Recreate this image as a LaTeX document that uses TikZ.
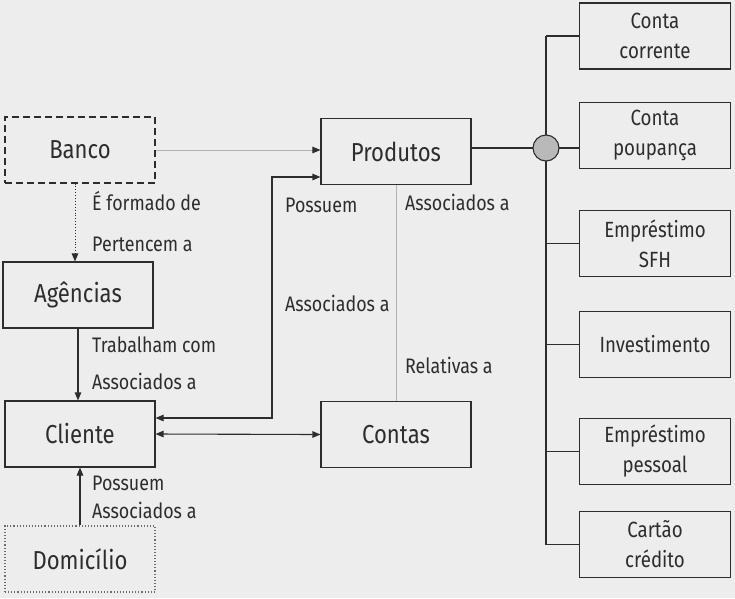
\documentclass[tikz,border=0pt]{standalone}
\usepackage{fontspec}
\setmainfont{Fira Sans}[FakeStretch=0.85]
\usetikzlibrary{positioning, arrows.meta}

\definecolor{ink}{RGB}{45,45,45}
\definecolor{paper}{RGB}{237,237,237}
\tikzset{
	box/.style={draw=ink, line width=1.1pt, minimum width=150pt, minimum height=66pt, inner sep=0pt, text=ink, font=\fontsize{26}{30}\selectfont},
	item/.style={box, minimum width=151pt, align=center, font=\fontsize{22}{30}\selectfont},
	lbl/.style={anchor=base west, inner sep=0pt, text=ink, font=\fontsize{21}{25}\selectfont},
	tip/.style={-{Triangle[length=8pt,width=6.5pt,color=ink]}},
	both/.style={{Triangle[length=8pt,width=6.5pt,color=ink]}-{Triangle[length=8pt,width=6.5pt,color=ink]}},
	link/.style={draw=ink, line width=1.1pt},
	faint/.style={draw=gray!60, line width=0.8pt},
}

\begin{document}
\begin{tikzpicture}[x=1pt,y=-1pt]
		\fill[paper] (0,0) rectangle (735,598);
		\useasboundingbox (0,0) rectangle (735,598);

		\node[box, dash pattern=on 7pt off 4pt] (banco) at (80,150) {Banco};
		\node[box] (agencias) at (78,295) {Agências};
		\node[box] (cliente) at (80,434) {Cliente};
		\node[box, draw=ink!70, dotted] (domicilio) at (80,559) {Domicílio};
		\node[box] (produtos) at (396,151.5) {Produtos};
		\node[box] (contas) at (396,434.5) {Contas};

		\node[item] (corrente) at (655,36) {Conta\\corrente};
		\node[item] (poupanca) at (655,135.5) {Conta\\poupança};
		\node[item] (sfh) at (655,243.5) {Empréstimo\\SFH};
		\node[item] (investimento) at (655,344.5) {Investimento};
		\node[item] (pessoal) at (655,451.5) {Empréstimo\\pessoal};
		\node[item] (cartao) at (655,544.5) {Cartão\\crédito};

		\node[lbl] (formado) at (92,210) {É formado de};
		\node[lbl] (pertencem) at (92,251) {Pertencem a};
		\node[lbl] (trabalham) at (92,352) {Trabalham com};
		\node[lbl] (assocA) at (92,389) {Associados a};
		\node[lbl] (possuemD) at (92,490) {Possuem};
		\node[lbl] (assocD) at (92,518) {Associados a};
		\node[lbl] (possuemP) at (285,212) {Possuem};
		\node[lbl] (assocP) at (285,311) {Associados a};
		\node[lbl] (assocC) at (405,210) {Associados a};
		\node[lbl] (relativas) at (405,373) {Relativas a};

		\draw[faint, tip] (banco.east) -- (banco.east -| produtos.west);
		\draw[link, line width=0.9pt, dotted, tip] ([xshift=-5pt]banco.south) -- ([xshift=-3pt]agencias.north);
		\draw[link, tip] (agencias.south) -- (cliente.north -| agencias);
		\draw[link, tip] (domicilio.north) -- (cliente.south);
		\coordinate (kink) at (272,177);
		\draw[link, both] ([yshift=16pt]cliente.east) -| (kink) -- (kink -| produtos.west);
		\draw[link, both] (cliente.east) -- (contas.west);
		\draw[faint] (produtos.south) -- (contas.north);

		\coordinate (hub) at (546,148);
		\draw[link] (produtos.east |- hub) -- (hub);
		\draw[link] (corrente.west -| hub) -- (cartao.west -| hub);
		\draw[link] (hub) -- (poupanca.west |- hub);
		\foreach \leaf in {corrente, sfh, investimento, pessoal, cartao}
			\draw[link] (\leaf.west -| hub) -- (\leaf.west);
		\node[circle, draw=ink, line width=1.1pt, fill=gray!55, minimum size=26pt, inner sep=0pt] (hubdot) at (hub) {};
	\end{tikzpicture}
\end{document}
